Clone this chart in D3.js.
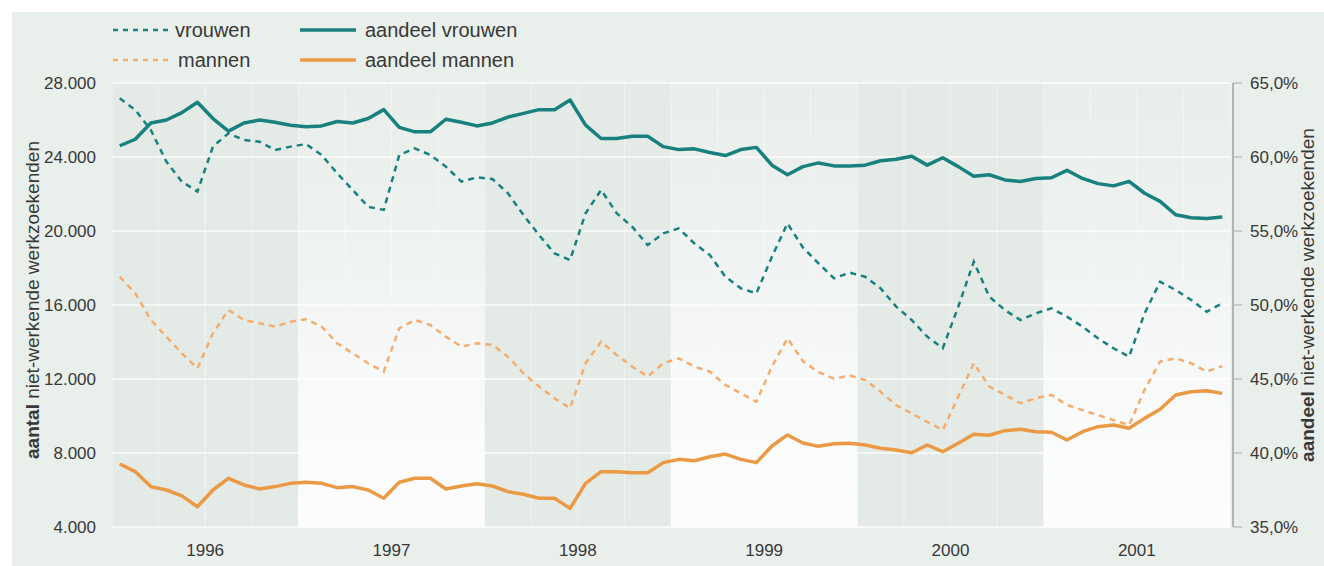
<!DOCTYPE html>
<html>

<head>
    <meta charset="UTF-8">
    <script src="https://d3js.org/d3.v7.min.js"></script>
    <style>
        body { margin: 0; background: #fff; }
        text { font-family: "Liberation Sans Narrow", "Liberation Sans", sans-serif; fill: #383838; }
    </style>
</head>

<body>
    <svg></svg>

    <script>
        let width = 1324, height = 566;

        // monthly figures, jan 1996 - dec 2001
        const years = [1996, 1997, 1998, 1999, 2000, 2001];
        const vrouwen = [
            27170, 26540, 25460, 23750, 22670, 22130, 24560, 25280, 24920, 24830, 24380, 24560,
            24700, 24110, 23120, 22220, 21310, 21140, 24110, 24470, 24110, 23480, 22670, 22900,
            22810, 22040, 20860, 19780, 18790, 18430, 20960, 22220, 20960, 20230, 19240, 19870,
            20140, 19330, 18700, 17530, 16900, 16630, 18610, 20410, 19100, 18250, 17440, 17750,
            17530, 16900, 15910, 15190, 14290, 13660, 15910, 18340, 16450, 15730, 15190, 15550,
            15820, 15370, 14830, 14200, 13660, 13210, 15550, 17260, 16810, 16270, 15640, 16090
        ];
        const mannen = [
            17530, 16630, 15190, 14290, 13390, 12580, 14470, 15730, 15190, 15010, 14830, 15100,
            15230, 14830, 13930, 13390, 12850, 12400, 14740, 15190, 14920, 14290, 13750, 13930,
            13840, 13210, 12310, 11590, 10960, 10420, 12850, 14020, 13300, 12670, 12130, 12850,
            13120, 12670, 12400, 11680, 11230, 10770, 12670, 14200, 12950, 12370, 12020, 12190,
            11950, 11310, 10590, 10140, 9690, 9240, 11040, 12850, 11590, 11140, 10690, 10960,
            11140, 10590, 10320, 10050, 9780, 9510, 11410, 12940, 13120, 12850, 12400, 12700
        ];
        const aandeelVrouwen = [
            60.76, 61.2, 62.3, 62.5, 63.0, 63.7, 62.6, 61.75, 62.3, 62.5, 62.35, 62.15,
            62.05, 62.1, 62.4, 62.3, 62.6, 63.2, 62.0, 61.7, 61.7, 62.55, 62.35, 62.1,
            62.3, 62.7, 62.95, 63.2, 63.2, 63.85, 62.15, 61.25, 61.25, 61.4, 61.4, 60.7,
            60.5, 60.55, 60.3, 60.1, 60.5, 60.65, 59.45, 58.8, 59.35, 59.6, 59.4, 59.4,
            59.45, 59.75, 59.85, 60.05, 59.45, 59.95, 59.35, 58.7, 58.8, 58.45, 58.35, 58.55,
            58.6, 59.1, 58.55, 58.2, 58.05, 58.35, 57.55, 57.0, 56.1, 55.9, 55.85, 55.95
        ];
        const aandeelMannen = [
            39.26, 38.74, 37.73, 37.5, 37.1, 36.37, 37.5, 38.29, 37.84, 37.57, 37.73, 37.95,
            38.02, 37.95, 37.66, 37.73, 37.5, 36.94, 38.02, 38.29, 38.29, 37.57, 37.77, 37.92,
            37.77, 37.39, 37.21, 36.94, 36.94, 36.26, 37.95, 38.74, 38.74, 38.67, 38.67, 39.35,
            39.57, 39.48, 39.75, 39.93, 39.57, 39.35, 40.47, 41.22, 40.68, 40.45, 40.63, 40.66,
            40.54, 40.32, 40.2, 40.02, 40.54, 40.09, 40.66, 41.26, 41.2, 41.51, 41.6, 41.44,
            41.4, 40.88, 41.44, 41.78, 41.89, 41.67, 42.34, 42.95, 43.92, 44.14, 44.2, 44.03
        ];
        const leftTicks = [4000, 8000, 12000, 16000, 20000, 24000, 28000];
        const rightTicks = [35, 40, 45, 50, 55, 60, 65];

        const teal = "#18807f", orange = "#eb9944", orangeLight = "#f4ad6c";

        let svg = d3.select("svg")
            .attr("width", width).attr("height", height);

        const nl = d3.formatLocale({ decimal: ",", thousands: ".", grouping: [3], currency: ["€", ""] });
        const fmtLeft = nl.format(",");
        const fmtRight = d => nl.format(".1f")(d) + "%";

        let x = d3.scaleLinear().domain([0, years.length * 12]).range([112, 1230]);
        let yLeft = d3.scaleLinear().domain([4000, 28000]).range([527, 83]);
        let yRight = d3.scaleLinear().domain([35, 65]).range([527, 83]);

        // panel
        svg.append("rect").attr("x", 12).attr("y", 12).attr("width", width - 12).attr("height", height - 12)
            .attr("fill", "#e9efeb");

        let defs = svg.append("defs");
        let grad = defs.append("linearGradient").attr("id", "light").attr("x1", 0).attr("x2", 0).attr("y1", 0).attr("y2", 1);
        grad.append("stop").attr("offset", "0%").attr("stop-color", "#e8eeea");
        grad.append("stop").attr("offset", "35%").attr("stop-color", "#eef2f0");
        grad.append("stop").attr("offset", "68%").attr("stop-color", "#f8faf9");
        grad.append("stop").attr("offset", "100%").attr("stop-color", "#fdfdfd");

        // year bands
        svg.append("g").selectAll("rect")
            .data(years)
            .join("rect")
            .attr("x", (d, i) => x(i * 12))
            .attr("width", x(12) - x(0))
            .attr("y", yLeft(28000))
            .attr("height", yLeft(4000) - yLeft(28000))
            .attr("fill", (d, i) => i % 2 == 0 ? "#e4ebe7" : "url(#light)");

        // quarter lines
        svg.append("g").selectAll("line")
            .data(d3.range(0, years.length * 12 + 1, 3))
            .join("line")
            .attr("x1", d => x(d)).attr("x2", d => x(d))
            .attr("y1", yLeft(28000)).attr("y2", yLeft(4000))
            .attr("stroke", "#fff").attr("stroke-width", 1).attr("opacity", 0.4);

        // horizontal grid
        svg.append("g").selectAll("line")
            .data(leftTicks)
            .join("line")
            .attr("x1", x(0)).attr("x2", x(72))
            .attr("y1", d => yLeft(d)).attr("y2", d => yLeft(d))
            .attr("stroke", "#fff").attr("stroke-width", 1.5).attr("opacity", 0.9);

        // left axis labels
        svg.append("g").selectAll("text")
            .data(leftTicks)
            .join("text")
            .attr("x", 96).attr("y", d => yLeft(d))
            .attr("dy", "0.35em")
            .attr("text-anchor", "end")
            .style("font-size", "17px")
            .text(fmtLeft);

        // right axis
        let ra = svg.append("g");
        ra.append("line").attr("x1", 1233).attr("x2", 1233).attr("y1", yRight(65)).attr("y2", yRight(35))
            .attr("stroke", "#a0a0a0").attr("stroke-width", 1.5);
        ra.selectAll(".tk").data(rightTicks).join("line").attr("class", "tk")
            .attr("x1", 1233).attr("x2", 1242)
            .attr("y1", d => yRight(d)).attr("y2", d => yRight(d))
            .attr("stroke", "#b4b4b4").attr("stroke-width", 1.2);
        ra.selectAll("text").data(rightTicks).join("text")
            .attr("x", 1250).attr("y", d => yRight(d))
            .attr("dy", "0.35em")
            .style("font-size", "17px")
            .text(fmtRight);

        // year labels
        svg.append("g").selectAll("text")
            .data(years)
            .join("text")
            .attr("x", (d, i) => x(i * 12 + 6))
            .attr("y", 550).attr("dy", "0.35em")
            .attr("text-anchor", "middle")
            .style("font-size", "17px")
            .text(d => d);

        // axis titles
        let lt = svg.append("text")
            .attr("transform", "translate(39,300) rotate(-90)")
            .attr("text-anchor", "middle")
            .style("font-size", "19px");
        lt.append("tspan").style("font-weight", "bold").text("aantal");
        lt.append("tspan").text(" niet-werkende werkzoekenden");

        let rt = svg.append("text")
            .attr("transform", "translate(1314,295) rotate(-90)")
            .attr("text-anchor", "middle")
            .style("font-size", "19px");
        rt.append("tspan").style("font-weight", "bold").text("aandeel");
        rt.append("tspan").text(" niet-werkende werkzoekenden");

        // lines
        let mx = (d, i) => x(i + 0.5);
        let lineLeft = d3.line().x(mx).y(d => yLeft(d));
        let lineRight = d3.line().x(mx).y(d => yRight(d));

        svg.append("path").datum(mannen).attr("d", lineLeft)
            .attr("fill", "none").attr("stroke", orangeLight).attr("stroke-width", 2.5)
            .attr("stroke-dasharray", "6,5");
        svg.append("path").datum(vrouwen).attr("d", lineLeft)
            .attr("fill", "none").attr("stroke", teal).attr("stroke-width", 2.5)
            .attr("stroke-dasharray", "6,5");
        svg.append("path").datum(aandeelMannen).attr("d", lineRight)
            .attr("fill", "none").attr("stroke", orange).attr("stroke-width", 3.5)
            .attr("stroke-linejoin", "round");
        svg.append("path").datum(aandeelVrouwen).attr("d", lineRight)
            .attr("fill", "none").attr("stroke", teal).attr("stroke-width", 3.5)
            .attr("stroke-linejoin", "round");

        // legend
        const legendItems = [
            { label: "vrouwen", color: teal, dash: "5,5", w: 2.5, x: 113, y: 30, tx: 175 },
            { label: "mannen", color: orangeLight, dash: "5,5", w: 2.5, x: 113, y: 60, tx: 178 },
            { label: "aandeel vrouwen", color: teal, dash: null, w: 3.5, x: 300, y: 30, tx: 365 },
            { label: "aandeel mannen", color: orange, dash: null, w: 3.5, x: 300, y: 60, tx: 365 }
        ];
        let lg = svg.append("g").selectAll("g").data(legendItems).join("g");
        lg.append("line")
            .attr("x1", d => d.x).attr("x2", d => d.x + 56)
            .attr("y1", d => d.y).attr("y2", d => d.y)
            .attr("stroke", d => d.color).attr("stroke-width", d => d.w)
            .attr("stroke-dasharray", d => d.dash);
        lg.append("text")
            .attr("x", d => d.tx).attr("y", d => d.y).attr("dy", "0.35em")
            .style("font-size", "20px")
            .text(d => d.label);
    </script>

</body>

</html>
